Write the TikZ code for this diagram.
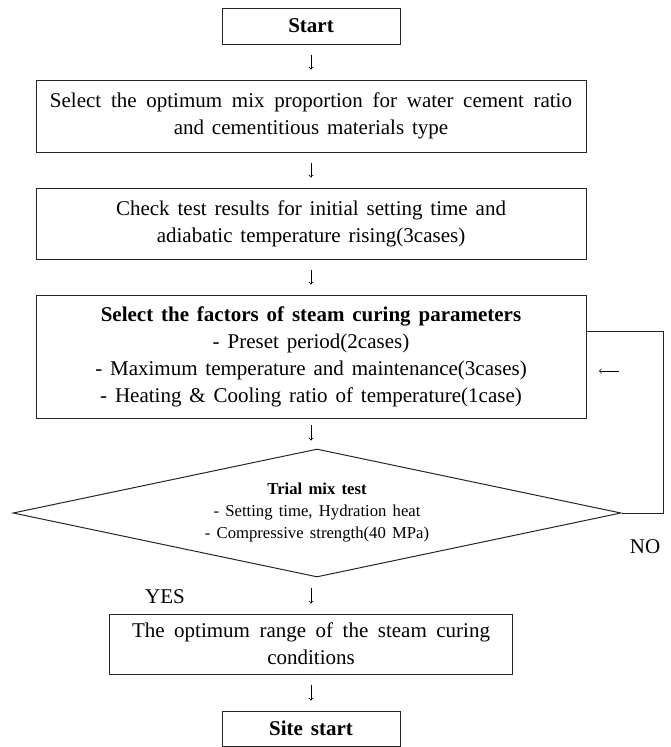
\documentclass[tikz,border=0pt]{standalone}
\usepackage{fontspec}
\setmainfont{Liberation Serif}[WordSpace=1.5]
\usetikzlibrary{shapes.geometric}
\newcommand{\spread}[2]{\makebox[#1][s]{#2}}
\begin{document}
\begin{tikzpicture}[x=0.75pt,y=-0.75pt,font=\fontsize{15.75}{20.25}\selectfont,
  box/.style={draw=black!85,line width=0.75pt,align=center,inner sep=0pt},
  flow/.style={->,line width=0.5pt,shorten <=7.5pt,shorten >=7.5pt}]
\useasboundingbox (0,0) rectangle (671,747);
\node[box,minimum width=133.5pt,minimum height=27pt] (start) at (311,26) {\textbf{Start}};
\node[box,minimum width=412.5pt,minimum height=54pt] (mix) at (311,116) {\spread{391.5pt}{Select the optimum mix proportion for water cement ratio}\\and cementitious materials type};
\node[box,minimum width=412.5pt,minimum height=53.25pt] (check) at (311,223.5) {Check test results for initial setting time and\\adiabatic temperature rising(3cases)};
\node[box,minimum width=412.5pt,minimum height=92.25pt] (factor) at (311,356.5) {\textbf{Select the factors of steam curing parameters}\\- Preset period(2cases)\\- Maximum temperature and maintenance(3cases)\\- Heating \& Cooling ratio of temperature(1case)};
\node[box,diamond,aspect=4.75,minimum width=456pt,minimum height=96pt,font=\fontsize{12.5}{16.5}\selectfont] (trial) at (317,513) {\textbf{Trial mix test}\\- Setting time, Hydration heat\\- Compressive strength(40 MPa)};
\node[box,minimum width=302.25pt,minimum height=45pt] (range) at (311,644) {\spread{268.5pt}{The optimum range of the steam curing}\\conditions};
\node[box,minimum width=133.5pt,minimum height=26.25pt] (site) at (311,728.5) {\textbf{Site start}};
\node (yes) at (165,597) {YES};
\node (no) at (645,547) {NO};
\coordinate (turn) at (663,331);
\coordinate (back0) at (619,371);
\coordinate (back1) at (599,371);
\draw[flow] (start) -- (mix);
\draw[flow] (mix) -- (check);
\draw[flow] (check) -- (factor);
\draw[flow,shorten <=5pt,shorten >=6pt] (factor) -- (factor |- trial.north);
\draw[flow] (trial.south -| range) -- (range);
\draw[flow] (range) -- (site);
\draw[line width=0.75pt,black!85] (trial.east) -| (turn) -- (factor.east |- turn);
\draw[->,line width=0.5pt] (back0) -- (back1);
\end{tikzpicture}
\end{document}
